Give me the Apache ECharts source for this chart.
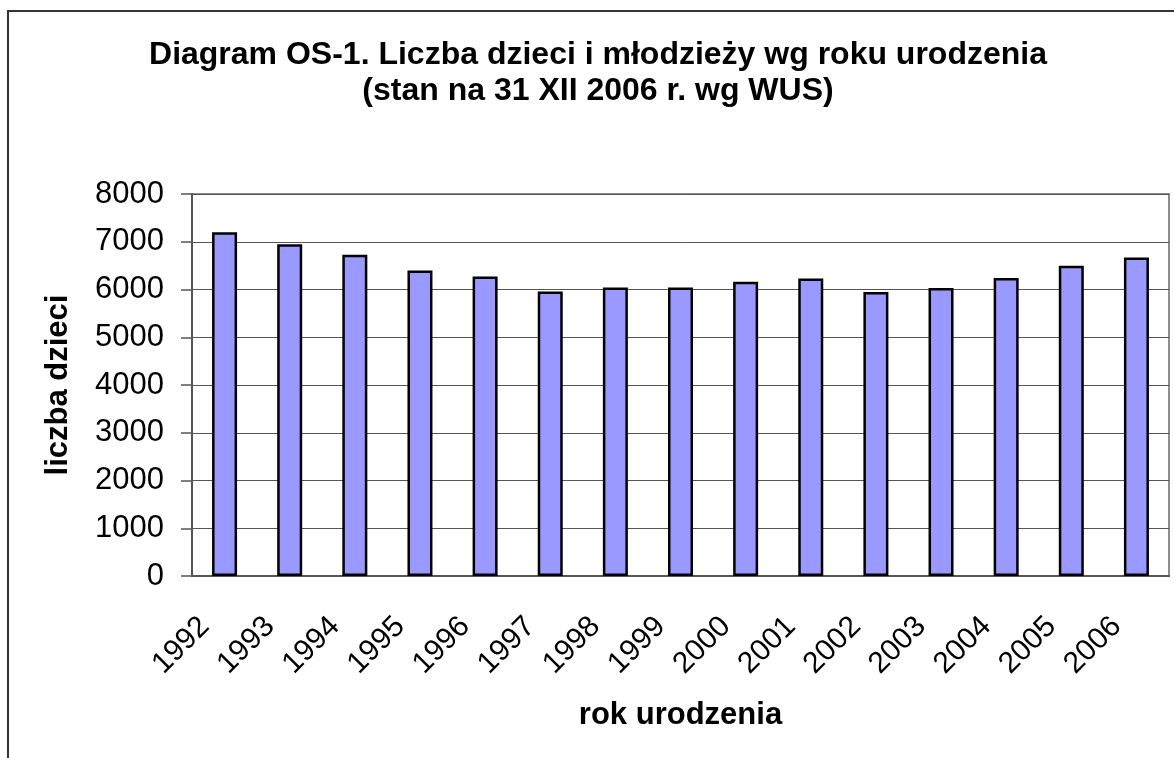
<!DOCTYPE html>
<html>
<head>
<meta charset="utf-8">
<script src="https://cdn.jsdelivr.net/npm/echarts@6/dist/echarts.min.js"></script>
<style>
  html, body { margin: 0; padding: 0; background: #fff; }
  #main { width: 1174px; height: 758px; }
</style>
</head>
<body>
<div id="main"></div>
<script>
// dane
var years = ['1992', '1993', '1994', '1995', '1996', '1997', '1998', '1999',
             '2000', '2001', '2002', '2003', '2004', '2005', '2006'];
var children = [7200, 6950, 6730, 6400, 6270, 5960, 6040, 6040,
                6160, 6230, 5950, 6030, 6240, 6500, 6670];
var titleLines = ['Diagram OS-1. Liczba dzieci i młodzieży wg roku urodzenia',
                  '(stan na 31 XII 2006 r. wg WUS)'];
var yName = 'liczba dzieci';
var xName = 'rok urodzenia';

var font = "'Liberation Sans', Arial, sans-serif";
var myChart = echarts.init(document.getElementById('main'));

var option = {
  backgroundColor: '#fff',
  animation: false,
  graphic: [
    {
      type: 'rect',
      z: -10,
      shape: { x: 8, y: 11, width: 1400, height: 1000 },
      style: { fill: 'none', stroke: '#333', lineWidth: 2 }
    },
    {
      type: 'text',
      x: 598,
      y: 37,
      style: {
        text: titleLines.join('\n'),
        fill: '#000',
        font: 'bold 32px ' + font,
        textAlign: 'center',
        lineHeight: 36
      }
    }
  ],
  grid: {
    left: 192,
    right: 5,
    top: 194,
    bottom: 182,
    show: true,
    borderColor: '#8c8c8c',
    borderWidth: 2
  },
  xAxis: {
    type: 'category',
    data: years,
    boundaryGap: true,
    name: xName,
    nameLocation: 'middle',
    nameGap: 124,
    nameTextStyle: { fontFamily: font, fontWeight: 'bold', fontSize: 31, color: '#000' },
    axisLine: { lineStyle: { color: '#555', width: 2 } },
    axisTick: { length: 10, lineStyle: { color: '#555', width: 1.5 } },
    axisLabel: {
      rotate: 45,
      margin: 26,
      interval: 0,
      padding: [0, 28, 0, 0],
      fontFamily: font,
      fontSize: 30,
      color: '#000'
    }
  },
  yAxis: {
    type: 'value',
    min: 0,
    max: 8000,
    interval: 1000,
    name: yName,
    nameLocation: 'middle',
    nameGap: 118,
    nameRotate: 90,
    nameTextStyle: { fontFamily: font, fontWeight: 'bold', fontSize: 31, color: '#000' },
    axisLine: { show: true, lineStyle: { color: '#555', width: 2 } },
    axisTick: { show: true, length: 11, lineStyle: { color: '#555', width: 1.5 } },
    axisLabel: {
      margin: 28,
      fontFamily: font,
      fontSize: 31,
      color: '#000',
      formatter: function (v) { return String(v); }
    },
    splitLine: { lineStyle: { color: '#555', width: 1 } }
  },
  series: [{
    type: 'bar',
    data: children,
    barWidth: 25,
    itemStyle: { color: '#9999ff', borderColor: '#000', borderWidth: 2.5 }
  }]
};

myChart.setOption(option);
</script>
</body>
</html>
